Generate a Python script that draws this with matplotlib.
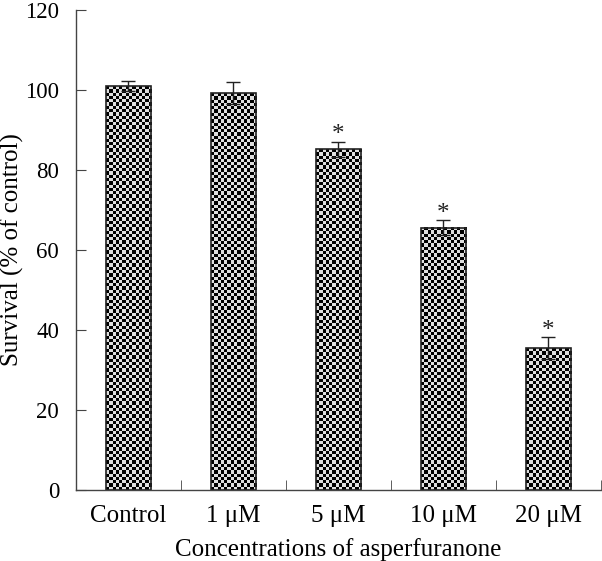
import numpy as np
import matplotlib.pyplot as plt

categories = ['Control', '1 \u03bcM', '5 \u03bcM', '10 \u03bcM', '20 \u03bcM']
survival = [101.0, 99.2, 85.2, 65.6, 35.4]
errors = [1.3, 2.8, 1.9, 1.9, 2.8]
significant = [False, False, True, True, True]

plt.rcParams['font.family'] = ['Liberation Serif', 'DejaVu Serif']
plt.rcParams['font.size'] = 18

fig = plt.figure(figsize=(6.02, 5.61), dpi=100)
ax = fig.add_axes([0.126, 0.127, 0.872, 0.855])

x = np.arange(len(categories))
width = 0.43
edge = '#222222'

# checkerboard fill, drawn as an image inside each bar
cell_h = 0.82
for xi, h in zip(x, survival):
    ny = max(1, int(round(h / cell_h)))
    ii, jj = np.indices((ny, 14))
    board = ((ii + jj) % 2).astype(float)
    ax.imshow(board, cmap='gray', extent=(xi - width/2, xi + width/2, 0, h),
              origin='lower', interpolation='nearest', aspect='auto',
              vmin=0, vmax=1.15, zorder=1)

ax.bar(x, survival, width=width, facecolor='none', edgecolor=edge,
       linewidth=1.2, zorder=2)
ax.errorbar(x, survival, yerr=errors, fmt='none', ecolor=edge,
            elinewidth=1.0, capsize=5, capthick=1.0, zorder=3)

for xi, h, e, s in zip(x, survival, errors, significant):
    if s:
        ax.text(xi, h + e - 1.2, '*', ha='center', va='bottom', fontsize=18,
                color='#222222')

ax.set_xlim(-0.5, len(categories) - 0.5)
ax.set_ylim(0, 120)
ax.set_yticks(np.arange(0, 121, 20))
ax.set_xticks(x)
ax.set_xticklabels(categories)
ax.set_xticks(np.arange(0.5, len(categories)), minor=True)
ax.tick_params(axis='x', which='major', length=0, pad=11, labelsize=18)
ax.tick_params(axis='x', which='minor', direction='in', length=7, color='#444444')
ax.tick_params(axis='y', direction='in', length=7, pad=12, color='#444444',
               labelsize=16.5)

for side in ['top', 'right']:
    ax.spines[side].set_visible(False)
for side in ['left', 'bottom']:
    ax.spines[side].set_color('#444444')
    ax.spines[side].set_linewidth(1.0)

ax.set_ylabel('Survival (% of control)', labelpad=1)
ax.set_xlabel('Concentrations of asperfuranone', labelpad=8)

plt.savefig('out.png', dpi=100)
